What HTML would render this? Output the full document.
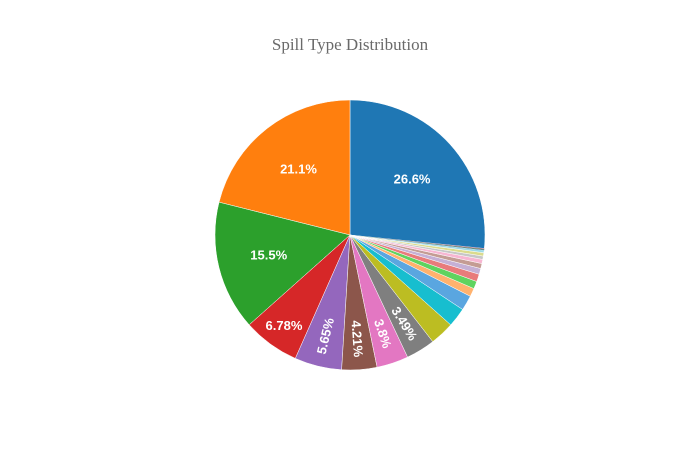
<!DOCTYPE html>
<html><head><meta charset="utf-8"><style>
html,body{margin:0;padding:0;background:#fff;}
svg{display:block;}
</style></head><body>
<svg id="chart" width="700" height="450" xmlns="http://www.w3.org/2000/svg">
<rect width="700" height="450" fill="#fff"/>
<text x="350" y="50" text-anchor="middle" font-family="Liberation Serif, serif" font-size="17" fill="#6a6a6a">Spill Type Distribution</text>
<g id="slices"></g>
<g id="labels"></g>
</svg>
<script>
const categories = ['A','B','C','D','E','F','G','H','I','J','K','L','M','N','O','P','Q','R','S','T','U','V','W','X','Y','Z'];
const values = [26.6,21.1,15.5,6.78,5.65,4.21,3.8,3.49,2.9,2.3,1.8,1.0,0.9,0.9,0.7,0.6,0.5,0.4,0.4,0.3,0.05,0.04,0.04,0.03,0.03,0.02];
const colors = ['#1f77b4','#ff7f0e','#2ca02c','#d62728','#9467bd','#8c564b','#e377c2','#7f7f7f','#bcbd22','#17becf','#5aa6e0','#ffb26e','#5fd35f','#e87b7b','#c5b0d5','#c49c94','#f7b6d2','#c7c7c7','#dbdb8d','#9edae5','#1f77b4','#d62728','#2ca02c','#8c564b','#9467bd','#d62728'];
const cx=350, cy=235, R=135;
const NS='http://www.w3.org/2000/svg';
const total = values.reduce((a,b)=>a+b,0);
const gS=document.getElementById('slices'), gL=document.getElementById('labels');
function pt(th,r){const a=th*Math.PI/180;return [cx+r*Math.sin(a), cy-r*Math.cos(a)];}
let spans=[];
spans.push([0, values[0]/total*360]);
let cur=360;
for(let i=1;i<values.length;i++){const s=values[i]/total*360;spans.push([cur-s,cur]);cur-=s;}
values.forEach((v,i)=>{
  const [a0,a1]=spans[i];
  const p0=pt(a0,R), p1=pt(a1,R);
  const large=(a1-a0)>180?1:0;
  const path=document.createElementNS(NS,'path');
  path.setAttribute('d',`M${cx},${cy}L${p0[0]},${p0[1]}A${R},${R} 0 ${large} 1 ${p1[0]},${p1[1]}Z`);
  path.setAttribute('fill',colors[i%colors.length]);
  path.setAttribute('stroke','#fff');
  path.setAttribute('stroke-width',v<0.2?'0':'0.5');
  
  
  gS.appendChild(path);
  const pct=v/total*100;
  if(pct<3.4) return;
  const mid=(a0+a1)/2;
  const t=document.createElementNS(NS,'text');
  t.textContent=(pct>=10?pct.toFixed(1):pct.toPrecision(3).replace(/0+$/,'').replace(/\.$/,''))+'%';
  t.setAttribute('fill','#fff');
  t.setAttribute('font-family','Liberation Sans, sans-serif');
  t.setAttribute('font-size','13');
  t.setAttribute('font-weight','bold');
  t.setAttribute('text-anchor','middle');
  t.setAttribute('dominant-baseline','central');
  if(pct>10){
    const p=pt(mid,R*0.62);
    t.setAttribute('x',p[0]);t.setAttribute('y',p[1]);
  } else if(pct>6){
    const p=pt(mid,R*0.83);
    t.setAttribute('x',p[0]);t.setAttribute('y',p[1]);
  } else {
    const p=pt(mid,R*0.77);
    const rad=mid*Math.PI/180;
    let ang=Math.atan2(-Math.cos(rad),Math.sin(rad))*180/Math.PI;
    if(ang>90) ang-=180; if(ang<=-90) ang+=180;
    t.setAttribute('x',p[0]);t.setAttribute('y',p[1]);
    t.setAttribute('transform',`rotate(${ang} ${p[0]} ${p[1]})`);
  }
  
  
  gL.appendChild(t);
});
</script>
</body></html>
